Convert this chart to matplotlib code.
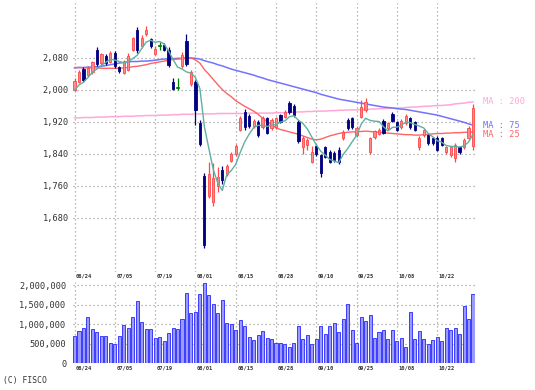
import numpy as np
import matplotlib
matplotlib.use("Agg")
import matplotlib.pyplot as plt
from matplotlib.transforms import blended_transform_factory, offset_copy

# ---------------- data ----------------
opens = [2000, 2020, 2052, 2036, 2044, 2098, 2066, 2084, 2070, 2092, 2056, 2042, 2050, 2100, 2150,
         2108, 2138, 2126, 2090, 2110, 2112, 2100, 2020, 2006, 2058, 2122, 2015, 2020, 1916, 1785,
         1735, 1718, 1758, 1800, 1788, 1822, 1838, 1900, 1945, 1934, 1908, 1919, 1906, 1928, 1904,
         1906, 1936, 1932, 1966, 1960, 1920, 1856, 1862, 1820, 1860, 1836, 1856, 1844, 1842, 1848,
         1878, 1924, 1928, 1886, 1932, 1950, 1844, 1881, 1890, 1922, 1904, 1938, 1918, 1906, 1916,
         1928, 1918, 1856, 1886, 1886, 1878, 1880, 1878, 1844, 1836, 1830, 1856, 1856, 1880, 1860]
highs = [2028, 2050, 2056, 2060, 2072, 2106, 2092, 2090, 2096, 2096, 2060, 2074, 2092, 2132, 2156,
         2136, 2158, 2130, 2108, 2118, 2116, 2106, 2030, 2030, 2094, 2140, 2050, 2025, 1925, 1792,
         1820, 1817, 1806, 1810, 1815, 1845, 1864, 1934, 1952, 1938, 1926, 1924, 1934, 1932, 1928,
         1932, 1940, 1948, 1972, 1964, 1925, 1884, 1880, 1858, 1864, 1840, 1860, 1848, 1846, 1856,
         1898, 1930, 1932, 1908, 1974, 1980, 1882, 1900, 1904, 1926, 1920, 1944, 1922, 1926, 1940,
         1932, 1922, 1884, 1902, 1890, 1882, 1884, 1882, 1860, 1860, 1866, 1860, 1878, 1908, 1965]
lows = [1996, 2016, 2020, 2032, 2040, 2060, 2062, 2062, 2066, 2054, 2042, 2038, 2046, 2096, 2092,
        2104, 2134, 2104, 2086, 2100, 2096, 2056, 1998, 1998, 2054, 2060, 2008, 1912, 1858, 1604,
        1728, 1710, 1745, 1765, 1785, 1818, 1834, 1896, 1900, 1904, 1904, 1882, 1902, 1888, 1900,
        1902, 1916, 1928, 1940, 1932, 1866, 1840, 1850, 1816, 1834, 1782, 1828, 1816, 1820, 1814,
        1874, 1900, 1902, 1882, 1928, 1945, 1838, 1876, 1886, 1888, 1900, 1918, 1896, 1902, 1912,
        1902, 1896, 1850, 1882, 1862, 1862, 1846, 1858, 1840, 1832, 1820, 1840, 1852, 1876, 1850]
closes = [2022, 2045, 2024, 2055, 2068, 2064, 2088, 2066, 2092, 2058, 2046, 2070, 2084, 2128, 2100,
          2130, 2150, 2108, 2102, 2110, 2100, 2062, 2002, 2006, 2086, 2064, 2045, 1950, 1865, 1612,
          1790, 1780, 1782, 1774, 1810, 1840, 1858, 1930, 1906, 1908, 1922, 1886, 1930, 1892, 1924,
          1928, 1920, 1944, 1944, 1936, 1872, 1880, 1874, 1844, 1838, 1792, 1832, 1820, 1824, 1818,
          1894, 1904, 1906, 1904, 1956, 1970, 1878, 1896, 1900, 1892, 1916, 1922, 1900, 1922, 1935,
          1906, 1900, 1880, 1898, 1866, 1866, 1850, 1862, 1856, 1856, 1862, 1845, 1875, 1905, 1955]
prior_closes = [1980, 1990, 1995, 2005]   # closes before the first shown day (for MA5)

volumes = [700000, 830000, 910000, 1190000, 870000, 810000, 700000, 700000, 510000, 490000,
           700000, 980000, 910000, 1190000, 1590000, 1060000, 870000, 870000, 640000, 680000,
           570000, 770000, 890000, 870000, 1120000, 1790000, 1290000, 1320000, 1760000, 2040000,
           1740000, 1510000, 1290000, 1620000, 1040000, 1000000, 850000, 1110000, 950000, 660000,
           600000, 720000, 830000, 640000, 620000, 510000, 530000, 490000, 420000, 510000,
           960000, 620000, 730000, 490000, 620000, 960000, 750000, 960000, 1020000, 790000,
           1130000, 1510000, 850000, 510000, 1190000, 1080000, 1240000, 640000, 790000, 850000,
           620000, 850000, 580000, 640000, 420000, 1320000, 620000, 830000, 620000, 490000,
           590000, 680000, 580000, 890000, 860000, 890000, 750000, 1460000, 1130000, 1760000]

ma25 = [2055, 2055, 2054, 2054, 2054, 2054, 2053, 2053, 2053, 2053, 2053, 2054, 2055,
        2057, 2058, 2060, 2062, 2065, 2067, 2069, 2071, 2073, 2075, 2076, 2077, 2078, 2079,
        2074, 2066, 2050, 2038, 2025, 2012, 2000, 1990, 1982, 1972, 1965, 1958, 1952, 1946, 1938,
        1928, 1920, 1912,
        1904, 1900, 1897, 1894, 1891, 1888, 1884, 1880, 1876, 1874, 1876, 1880, 1884, 1887, 1890, 1892,
        1893, 1894, 1894, 1895, 1896, 1895, 1894, 1893, 1892, 1891, 1890, 1889, 1888, 1887, 1887,
        1886, 1886, 1887, 1888, 1889, 1890, 1890, 1891, 1891, 1892, 1892, 1893, 1893, 1894]
ma75 = [2054, 2055, 2055, 2056, 2056, 2057, 2058, 2060, 2062, 2064, 2066, 2068, 2069, 2070, 2070,
        2071, 2071, 2072, 2073, 2075, 2076, 2077, 2077, 2078, 2078, 2079, 2079, 2078, 2076, 2072,
        2069, 2066, 2062, 2059, 2055, 2051, 2048, 2045, 2042, 2039, 2036, 2032, 2029, 2025, 2022,
        2019, 2016, 2013, 2010, 2007, 2004, 2001, 1998, 1995, 1992, 1988, 1985, 1982, 1979, 1976,
        1974, 1972, 1970, 1968, 1966, 1964, 1962, 1960, 1958, 1956, 1955, 1954, 1952, 1951, 1950,
        1948, 1946, 1944, 1942, 1940, 1938, 1936, 1933, 1930, 1927, 1924, 1921, 1918, 1914, 1911]
ma200 = [1929, 1929, 1930, 1930, 1930, 1931, 1931, 1931, 1932, 1932, 1932, 1933, 1933, 1933,
         1934, 1934, 1935, 1935, 1935, 1936, 1936, 1936, 1937, 1937, 1938, 1938, 1938, 1939,
         1939, 1939, 1939, 1939, 1940, 1940, 1940, 1940, 1940, 1940, 1940, 1941, 1941, 1941,
         1941, 1941, 1941,
         1942, 1942, 1942, 1943, 1943, 1944, 1944, 1945, 1945, 1946, 1946, 1946, 1947, 1947,
         1948, 1948, 1949, 1949,
         1949, 1950, 1950, 1951, 1951, 1952, 1952, 1953, 1953,
         1954, 1954, 1955, 1956, 1956, 1957, 1958, 1958, 1959, 1960, 1960, 1961,
         1962, 1964, 1965, 1966, 1968, 1969]

date_labels = ['06/24', '07/05', '07/19', '08/01', '08/15', '08/28', '09/10', '09/25', '10/08', '10/22']
date_index = [0, 9, 18, 27, 36, 45, 54, 63, 72, 81]
price_ticks = [1680, 1760, 1840, 1920, 2000, 2080]
vol_ticks = [0, 500000, 1000000, 1500000, 2000000]
ma_names = ['MA : 200', 'MA : 75', 'MA : 25']

# ---------------- style ----------------
UP_FACE, UP_EDGE = '#ff8a8a', '#ff4848'
DN_COLOR = '#000080'
EQ_COLOR = '#008000'
C_MA5 = '#5fb0a2'
C_MA25 = '#ff6464'
C_MA75 = '#7272ff'
C_MA200 = '#ffa8d8'
GRID = '#a0a0a0'
TXT = '#333333'
MONO = 'DejaVu Sans Mono'

W, H = 535, 390
fig = plt.figure(figsize=(W / 100, H / 100), dpi=100)
fig.patch.set_facecolor('white')

n = len(closes)
x = np.arange(n)
x_lo, x_hi = -0.3, 89.4
ax_l, ax_r = 73.2, 474.8

# price axes: top 3px, bottom 272px
p_top, p_bot = 3, 272
ax = fig.add_axes([ax_l / W, 1 - p_bot / H, (ax_r - ax_l) / W, (p_bot - p_top) / H])
ppx = 2.5  # price units per pixel
ax.set_ylim(2080 - (p_bot - 57.5) * ppx, 2080 + (57.5 - p_top) * ppx)
ax.set_xlim(x_lo, x_hi)

# volume axes: 0 at 363.3px, 2M at 285px
v_bot = 363.3
v_top = 282
vpx = 2000000 / (v_bot - 285)
axv = fig.add_axes([ax_l / W, 1 - v_bot / H, (ax_r - ax_l) / W, (v_bot - v_top) / H])
axv.set_ylim(0, (v_bot - v_top) * vpx)
axv.set_xlim(x_lo, x_hi)

for a in (ax, axv):
    for s in a.spines.values():
        s.set_visible(False)
    a.set_facecolor('none')
    a.tick_params(length=0, labelsize=6, colors=TXT)
    a.set_xticks([])
    for xi in date_index:
        a.axvline(xi, color=GRID, lw=0.9, ls=(0, (1, 2.2)), zorder=0)

ax.set_yticks(price_ticks)
ax.set_yticklabels([f'{v:,}' for v in price_ticks], fontfamily=MONO, fontsize=6.2, color=TXT)
ax.tick_params(axis='y', pad=3)
for v in price_ticks:
    ax.axhline(v, color=GRID, lw=0.9, ls=(0, (1, 2.2)), zorder=0)

axv.set_yticks(vol_ticks)
axv.set_yticklabels([f'{v:,}' for v in vol_ticks], fontfamily=MONO, fontsize=6.2, color=TXT)
axv.tick_params(axis='y', pad=5)
for v in vol_ticks:
    axv.axhline(v, color=GRID, lw=0.9, ls=(0, (1, 2.2)), zorder=0)

# ---------------- candles ----------------
bw = 0.5
for i in range(n):
    o, h, l, c = opens[i], highs[i], lows[i], closes[i]
    if c > o:
        ax.vlines(i, l, h, color=UP_EDGE, lw=0.9, zorder=3)
        ax.bar(i, c - o, bottom=o, width=bw, color=UP_FACE, edgecolor=UP_EDGE, lw=0.6, zorder=4)
    elif c < o:
        ax.vlines(i, l, h, color=DN_COLOR, lw=0.9, zorder=3)
        ax.bar(i, o - c, bottom=c, width=bw, color=DN_COLOR, edgecolor=DN_COLOR, lw=0.6, zorder=4)
    else:
        ax.vlines(i, l, h, color=EQ_COLOR, lw=0.9, zorder=3)
        ax.bar(i, 3, bottom=o - 1.5, width=bw, color=EQ_COLOR, edgecolor=EQ_COLOR, lw=0.6, zorder=4)

# ---------------- moving averages ----------------
allc = np.array(prior_closes + closes, dtype=float)
ma5 = np.convolve(allc, np.ones(5) / 5, mode='valid')
ax.plot(x, ma200, color=C_MA200, lw=1.1, zorder=2)
ax.plot(x, ma75, color=C_MA75, lw=1.1, zorder=2)
ax.plot(x, ma25, color=C_MA25, lw=1.0, zorder=2)
ax.plot(x, ma5, color=C_MA5, lw=1.0, zorder=5)

# MA labels at right, at the line end values, kept apart
ends = [ma200[-1], ma75[-1], ma25[-1]]
cols = [C_MA200, C_MA75, C_MA25]
min_gap = 9 * ppx
pos = []
for v in ends:
    if pos and pos[-1] - v < min_gap:
        v = pos[-1] - min_gap
    pos.append(v)
tr = offset_copy(blended_transform_factory(ax.transAxes, ax.transData), fig=fig, x=8, y=0, units='dots')
for name, v, col in zip(ma_names, pos, cols):
    ax.text(1.0, v, name, transform=tr, color=col, fontsize=6.2, fontfamily=MONO,
            ha='left', va='center', clip_on=False)

# ---------------- volume ----------------
axv.bar(x, volumes, width=0.68, color='#9a9aff', edgecolor='#3c3cff', lw=0.7, zorder=3)

# date labels (top row under price panel, bottom row under volume panel)
trp = blended_transform_factory(ax.transData, ax.transAxes)
trv = blended_transform_factory(axv.transData, axv.transAxes)
tp = offset_copy(trp, fig=fig, x=1.5, y=-4, units='dots')
tv = offset_copy(trv, fig=fig, x=1.5, y=-4.7, units='dots')
for xi, lab in zip(date_index, date_labels):
    ax.text(xi, 0, lab, transform=tp, fontsize=3.9, fontweight='bold', fontfamily=MONO,
            color=TXT, ha='left', va='center', clip_on=False)
    axv.text(xi, 0, lab, transform=tv, fontsize=3.9, fontweight='bold', fontfamily=MONO,
             color=TXT, ha='left', va='center', clip_on=False)

fig.text(3 / W, 1 - 380 / H, '(C) FISCO', fontsize=5.8, fontfamily=MONO, color=TXT,
         ha='left', va='center')

fig.savefig('out.png', dpi=100, facecolor='white')
